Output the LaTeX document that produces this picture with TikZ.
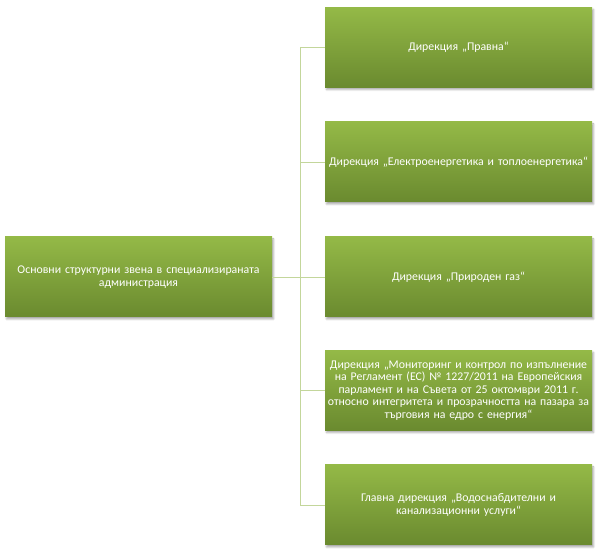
\documentclass[tikz,border=0pt]{standalone}
\usepackage{fontspec}
\setmainfont{Carlito}
\usepackage{tikz}
\usetikzlibrary{shadows.blur}
\definecolor{orgtop}{HTML}{94B947}
\definecolor{orgbottom}{HTML}{6A8A2F}
\definecolor{orgline}{HTML}{C3D69B}

\begin{document}
\begin{tikzpicture}[
  x=1pt, y=1pt,
  every node/.style={font=\fontsize{11.8}{12.5}\selectfont},
  unit/.style={top color=orgtop, bottom color=orgbottom, draw=none,
               minimum width=267pt, minimum height=80pt, text width=264pt,
               align=center, text=white, inner sep=0pt,
               blur shadow={shadow xshift=1.5pt, shadow yshift=-2pt,
                            shadow blur steps=4, shadow opacity=35}},
  link/.style={draw=orgline, line width=0.9pt}
]
\useasboundingbox (0,0) rectangle (598,554);
\node[unit] (root) at (138.5,277) {Основни структурни звена в специализираната\\администрация};
\node[unit] (pravna) at (458.5,506.5) {Дирекция „Правна“};
\node[unit] (energy) at (458.5,392) {Дирекция „Електроенергетика и топлоенергетика“};
\node[unit] (gas) at (458.5,277) {Дирекция „Природен газ“};
\node[unit] (remit) at (458.5,163.5) {Дирекция „Мониторинг и контрол по изпълнение\\на Регламент (ЕС) № 1227/2011 на Европейския\\парламент и на Съвета от 25 октомври 2011 г.\\относно интегритета и прозрачността на пазара за\\търговия на едро с енергия“};
\node[unit] (water) at (458.5,49) {Главна дирекция „Водоснабдителни и\\канализационни услуги“};
\coordinate (spine) at (300,277);
\draw[link] (root.east) -- (spine);
\draw[link] (spine |- pravna.west) -- (spine |- water.west);
\foreach \n in {pravna,energy,gas,remit,water}
  \draw[link] (spine |- \n.west) -- (\n.west);
\end{tikzpicture}
\end{document}
